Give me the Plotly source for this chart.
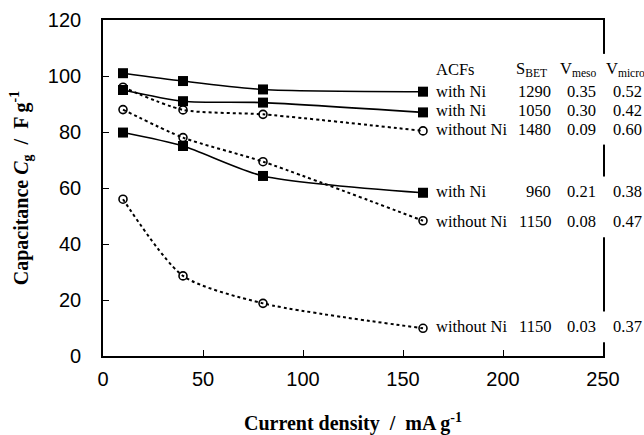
import plotly.graph_objects as go

current = [10, 40, 80, 160]

cap_ni_1290 = [101, 98.2, 95.2, 94.4]
cap_ni_1050 = [95, 91, 90.5, 87]
cap_no_1480 = [96, 87.9, 86.3, 80.4]
cap_no_1150a = [88, 78, 69.4, 48.3]
cap_ni_960 = [79.8, 75, 64.3, 58.3]
cap_no_1150b = [56, 28.6, 18.8, 9.9]

series_data = [cap_ni_1290, cap_ni_1050, cap_no_1480, cap_no_1150a, cap_ni_960, cap_no_1150b]
with_ni = [True, True, False, False, True, False]

row_labels = ["with Ni", "with Ni", "without Ni", "without Ni", "with Ni", "without Ni"]
row_sbet = ["1290", "1050", "1480", "1150", "960", "1150"]
row_vmeso = ["0.35", "0.30", "0.09", "0.08", "0.21", "0.03"]
row_vmicro = ["0.52", "0.42", "0.60", "0.47", "0.38", "0.37"]
row_y = [94.6, 87.8, 81.0, 47.9, 58.6, 10.4]
header_y = 102.4

x_ticks = [0, 50, 100, 150, 200, 250]
y_ticks = [0, 20, 40, 60, 80, 100, 120]

fig = go.Figure()

order = [2, 3, 5, 0, 1, 4]
for i in order:
    ys = series_data[i]
    if with_ni[i]:
        fig.add_trace(go.Scatter(
            x=current, y=ys, mode="lines+markers",
            line=dict(color="black", width=1.6, shape="spline", smoothing=0.7),
            marker=dict(symbol="square", size=10, color="black"),
            showlegend=False, cliponaxis=False))
    else:
        fig.add_trace(go.Scatter(
            x=current, y=ys, mode="lines+markers",
            line=dict(color="black", width=2, dash="dot", shape="spline", smoothing=0.7),
            marker=dict(symbol="circle-open", size=8, color="black", line=dict(width=1.6)),
            showlegend=False, cliponaxis=False))

serif = "Liberation Serif, Times New Roman, serif"
tfont = dict(family=serif, size=16.5, color="black")

vmicro_px = 1.044

ann = []
ann.append(dict(x=165.5, y=header_y, text="ACFs", xanchor="left", showarrow=False, font=tfont))
ann.append(dict(x=214, y=header_y, text="S<sub>BET</sub>", xanchor="center", showarrow=False, font=tfont))
ann.append(dict(x=237.5, y=header_y, text="V<sub>meso</sub>", xanchor="center", showarrow=False, font=tfont))
ann.append(dict(x=vmicro_px, xref="paper", y=header_y, text="V<sub>micro</sub>", xanchor="center",
                showarrow=False, font=tfont))
for lab, sb, vm, vmi, yy in zip(row_labels, row_sbet, row_vmeso, row_vmicro, row_y):
    ann.append(dict(x=165.5, y=yy, text=lab, xanchor="left", showarrow=False, font=tfont))
    ann.append(dict(x=225, y=yy, text=sb, xanchor="right", showarrow=False, font=tfont))
    ann.append(dict(x=239, y=yy, text=vm, xanchor="center", showarrow=False, font=tfont))
    ann.append(dict(x=vmicro_px + 0.004, xref="paper", y=yy, text=vmi, xanchor="center",
                    showarrow=False, font=tfont))

shapes = []
for yy in [header_y] + row_y:
    shapes.append(dict(type="rect", xref="paper", yref="y", x0=0.994, x1=1.006,
                       y0=yy - 5.5, y1=yy + 5.5, fillcolor="white",
                       line=dict(width=0), layer="above"))

fig.update_layout(
    width=644, height=435,
    margin=dict(l=103, r=41, t=20, b=79, autoexpand=False),
    paper_bgcolor="white", plot_bgcolor="white",
    annotations=ann, shapes=shapes,
    showlegend=False,
)

axis_font = dict(family="Liberation Sans, Arial, sans-serif", size=20, color="black")
fig.update_xaxes(
    range=[0, 250], tickvals=x_ticks, ticktext=[str(v) for v in x_ticks],
    ticks="inside", ticklen=6, tickwidth=1.3, tickcolor="black",
    showline=True, linecolor="black", linewidth=1.6, mirror=True, automargin=False,
    showgrid=False, zeroline=False, tickfont=axis_font, ticklabelstandoff=4,
    title=dict(text="<b>Current density  /  mA g<sup>-1</sup></b>",
               font=dict(family=serif, size=20, color="black"), standoff=32),
)
fig.update_yaxes(
    range=[0, 120], tickvals=y_ticks, ticktext=[str(v) for v in y_ticks],
    ticks="inside", ticklen=6, tickwidth=1.3, tickcolor="black",
    showline=True, linecolor="black", linewidth=1.6, mirror=True, automargin=False,
    showgrid=False, zeroline=False, tickfont=axis_font, ticklabelstandoff=16,
    title=dict(text="<b>Capacitance <i>C</i><sub>g</sub>  /  F g<sup>-1</sup></b>",
               font=dict(family=serif, size=20, color="black"), standoff=14),
)

fig.write_html("out.html")
